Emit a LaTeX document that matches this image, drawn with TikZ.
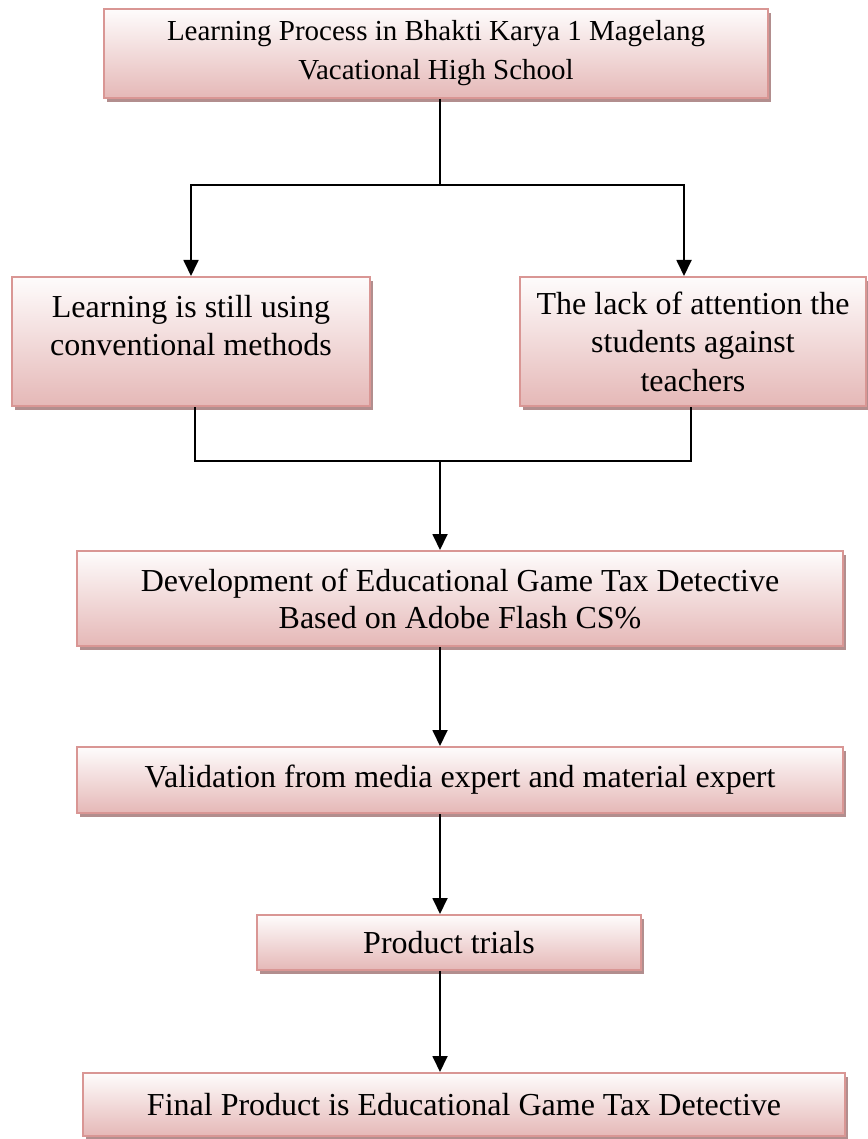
\documentclass[tikz,border=0pt]{standalone}
\usepackage{fontspec}
\setmainfont{Liberation Serif}
\usetikzlibrary{arrows.meta,shadows}
\definecolor{boxborder}{RGB}{217,150,148}
\definecolor{boxtop}{RGB}{254,252,252}
\definecolor{boxbot}{RGB}{229,184,183}
\definecolor{boxshadow}{RGB}{178,142,142}
\tikzset{
  boxstyle/.style={rectangle, draw=boxborder, line width=2pt,
    top color=boxtop, bottom color=boxbot,
    general shadow={fill=boxshadow, shadow xshift=3pt, shadow yshift=-4pt},
    align=center, inner sep=0pt, font=\fontsize{32}{37}\selectfont},
  conn/.style={line width=1.8pt, draw=black},
  arr/.style={conn, -{Triangle[length=16pt,width=15pt]}}
}
\begin{document}
\begin{tikzpicture}[x=1pt,y=-1pt]
\useasboundingbox (0,0) rectangle (867,1139);

\node[boxstyle, minimum width=664pt, minimum height=89pt, font=\fontsize{29}{39}\selectfont]
  (top) at (436,53.5) {Learning Process in Bhakti Karya 1 Magelang\\Vacational High School};
\node[boxstyle, minimum width=358pt, minimum height=129pt, font=\fontsize{32}{38}\selectfont]
  (left) at (191,341.5) {Learning is still using\\conventional methods\\[-18pt]\strut};
\node[boxstyle, minimum width=346pt, minimum height=129pt, font=\fontsize{32}{38.5}\selectfont]
  (right) at (693,341.5) {The lack of attention the\\students against\\teachers};
\node[boxstyle, minimum width=766pt, minimum height=95pt]
  (dev) at (460,598.5) {Development of Educational Game Tax Detective\\Based on Adobe Flash CS\%};
\node[boxstyle, minimum width=766pt, minimum height=66pt]
  (val) at (460,780) {Validation from media expert and material expert};
\node[boxstyle, minimum width=384pt, minimum height=55pt]
  (trial) at (449,942.5) {Product trials};
\node[boxstyle, minimum width=762pt, minimum height=63pt]
  (final) at (464,1104.5) {Final Product is Educational Game Tax Detective};

\coordinate (spine) at (440,0);
\coordinate (lcol) at (191,0);
\coordinate (rcol) at (684,0);
\coordinate (lj) at (195,0);
\coordinate (rj) at (691,0);
\coordinate (split) at (440,185);
\coordinate (join) at (440,461);

\draw[conn] (top.south -| spine) -- (split);
\draw[arr] (split) -| (left.north -| lcol);
\draw[arr] (split) -| (right.north -| rcol);
\draw[conn] (left.south -| lj) |- (join) -| (right.south -| rj);
\draw[arr] (join) -- (dev.north -| spine);
\draw[arr] (dev.south -| spine) -- (val.north -| spine);
\draw[arr] (val.south -| spine) -- (trial.north -| spine);
\draw[arr] (trial.south -| spine) -- (final.north -| spine);
\end{tikzpicture}
\end{document}
